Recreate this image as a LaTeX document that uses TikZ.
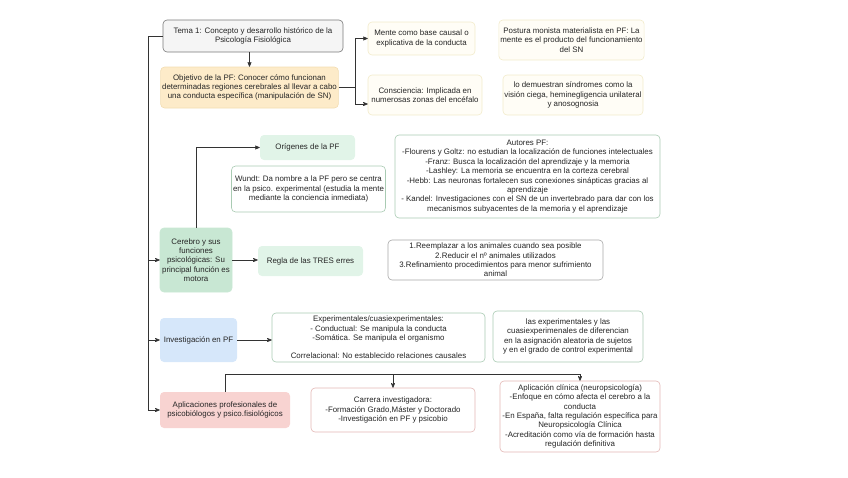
\documentclass[tikz,border=0pt]{standalone}
\usepackage{fontspec}
\setmainfont{Liberation Sans}
\usetikzlibrary{arrows}

\definecolor{edgegray}{HTML}{333333}
\definecolor{temafill}{HTML}{F5F5F5}
\definecolor{temaline}{HTML}{7A7A7A}
\definecolor{orangefill}{HTML}{FDEBC9}
\definecolor{orangeline}{HTML}{F3DDB2}
\definecolor{yellowfill}{HTML}{FFFDF6}
\definecolor{yellowline}{HTML}{F2EBCB}
\definecolor{greenfill}{HTML}{E1F4E8}
\definecolor{darkgreenfill}{HTML}{C8E7D3}
\definecolor{greenline}{HTML}{A9CBB3}
\definecolor{bluefill}{HTML}{D6E7FA}
\definecolor{redfill}{HTML}{F8D3D1}
\definecolor{redline}{HTML}{E3B7B5}
\definecolor{grayline}{HTML}{A8A8A8}

\begin{document}
\begin{tikzpicture}[x=1pt,y=-1pt,>=stealth',
	every node/.style={font=\fontsize{7.9}{9.4}\selectfont, text=black!85, align=center, inner sep=1.5pt},
	box/.style={rectangle, rounded corners=4pt, line width=0.6pt},
	gray node/.style={box, fill=temafill, draw=temaline},
	orange node/.style={box, fill=orangefill, draw=orangeline},
	yellow node/.style={box, fill=yellowfill, draw=yellowline},
	green node/.style={box, fill=greenfill},
	main green/.style={box, fill=darkgreenfill, draw=darkgreenfill},
	white green/.style={box, fill=white, draw=greenline},
	white gray/.style={box, fill=white, draw=grayline},
	blue node/.style={box, fill=bluefill},
	red node/.style={box, fill=redfill},
	white red/.style={box, fill=white, draw=redline},
	link/.style={->, draw=edgegray, line width=0.7pt}]

	\useasboundingbox (0,0) rectangle (848,477);

	%top row
	\node[gray node, minimum width=180pt, minimum height=32pt] (tema) at (253,36) {Tema 1: Concepto y desarrollo histórico de la\\Psicología Fisiológica};
	\node[orange node, minimum width=173pt, minimum height=41pt] (objetivo) at (249.5,87.5) {Objetivo de la PF: Conocer cómo funcionan\\determinadas regiones cerebrales al llevar a cabo\\una conducta específica (manipulación de SN)};
	\node[yellow node, minimum width=107pt, minimum height=33pt] (mente) at (421.5,38.5) {Mente como base causal o\\explicativa de la conducta};
	\node[yellow node, minimum width=114pt, minimum height=40pt] (consciencia) at (425,95) {Consciencia: Implicada en\\numerosas zonas del encéfalo};
	\node[yellow node, minimum width=143pt, minimum height=40pt] (postura) at (571.5,40) {Postura monista materialista en PF: La\\mente es el producto del funcionamiento\\del SN};
	\node[yellow node, minimum width=140pt, minimum height=40pt] (sindromes) at (573,95) {lo demuestran síndromes como la\\visión ciega, heminegligencia unilateral\\y anosognosia};

	%cerebro
	\node[green node, minimum width=95pt, minimum height=25pt] (origenes) at (307.5,147.5) {Orígenes de la PF};
	\node[white green, minimum width=153pt, minimum height=46pt] (wundt) at (308.5,189) {Wundt: Da nombre a la PF pero se centra\\en la psico. experimental (estudia la mente\\mediante la conciencia inmediata)};
	\node[white green, minimum width=265pt, minimum height=83pt] (autores) at (527.5,176.5) {Autores PF:\\-Flourens y Goltz: no estudian la localización de funciones intelectuales\\-Franz: Busca la localización del aprendizaje y la memoria\\-Lashley: La memoria se encuentra en la corteza cerebral\\-Hebb: Las neuronas fortalecen sus conexiones sinápticas gracias al\\aprendizaje\\- Kandel: Investigaciones con el SN de un invertebrado para dar con los\\mecanismos subyacentes de la memoria y el aprendizaje};
	\node[main green, minimum width=72pt, minimum height=64pt] (cerebro) at (196,260) {Cerebro y sus\\funciones\\psicológicas: Su\\principal función es\\motora};
	\node[green node, minimum width=105pt, minimum height=30pt] (regla) at (310.5,261) {Regla de las TRES erres};
	\node[white gray, minimum width=215pt, minimum height=40pt] (erres) at (495.5,260) {1.Reemplazar a los animales cuando sea posible\\2.Reducir el nº animales utilizados\\3.Refinamiento procedimientos para menor sufrimiento\\animal};

	%investigacion
	\node[blue node, minimum width=77pt, minimum height=44pt] (investigacion) at (198.5,340) {Investigación en PF};
	\node[white green, minimum width=213pt, minimum height=49pt] (tipos) at (378.5,337.5) {Experimentales/cuasiexperimentales:\\- Conductual: Se manipula la conducta\\-Somática. Se manipula el organismo\\[8.8pt]Correlacional: No establecido relaciones causales};
	\node[white green, minimum width=150pt, minimum height=51pt] (diferencias) at (568,336.5) {las experimentales y las\\cuasiexperimenales de diferencian\\en la asignación aleatoria de sujetos\\y en el grado de control experimental};

	%aplicaciones
	\node[red node, minimum width=130pt, minimum height=36pt] (aplicaciones) at (225,410) {Aplicaciones profesionales de\\psicobiólogos y psico.fisiológicos};
	\node[white red, minimum width=164pt, minimum height=44pt] (carrera) at (393,410) {Carrera investigadora:\\-Formación Grado,Máster y Doctorado\\-Investigación en PF y psicobio};
	\node[white red, minimum width=160pt, minimum height=71pt] (clinica) at (580,416.5) {Aplicación clínica (neuropsicología)\\-Enfoque en cómo afecta el cerebro a la\\conducta\\-En España, falta regulación específica para\\Neuropsicología Clínica\\-Acreditación como vía de formación hasta\\regulación definitiva};

	%edges
	\coordinate (trunk) at (148,36);
	\draw[link,-] (tema.west) -- (trunk);
	\draw[link] (trunk) |- (cerebro.west);
	\draw[link] (trunk) |- (investigacion.west);
	\draw[link] (trunk) |- (aplicaciones.west);
	\draw[link] (tema.south -| objetivo.north) -- (objetivo.north);
	\draw[link] (objetivo.east) -- ++(17,0) coordinate (split) |- (mente.west);
	\draw[link] (split) |- ([yshift=-9pt]consciencia.west);
	\draw[link] (cerebro.north) |- (origenes.west);
	\draw[link] (cerebro.east) -- (cerebro.east -| regla.west);
	\draw[link] (investigacion.east) -- (investigacion.east -| tipos.west);
	\draw[link] (aplicaciones.north) -- ++(0,-17) coordinate (bus) -| (clinica.north);
	\draw[link] (bus -| carrera.north) -- (carrera.north);

\end{tikzpicture}
\end{document}
